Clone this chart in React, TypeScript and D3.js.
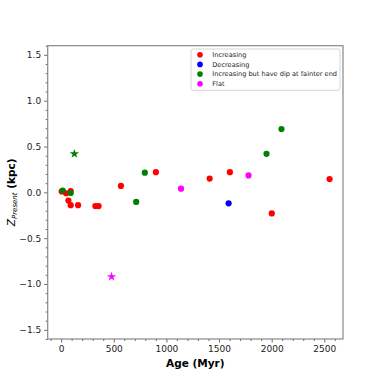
import React, { useEffect, useRef } from 'react';
import * as d3 from 'd3';

// 数据：年龄 (Myr) 与 Z_Present (kpc)
const increasingAge = [6, 47, 91, 69, 91, 161, 325, 356, 568, 900, 1411, 1603, 2001, 2550];
const increasingZ = [0.01, -0.01, 0.015, -0.09, -0.14, -0.14, -0.15, -0.15, 0.07, 0.22, 0.15, 0.22, -0.23, 0.145];
const decreasingAge = [1591];
const decreasingZ = [-0.12];
const dipAge = [15, 91, 713, 795, 1951, 2093];
const dipZ = [0.02, -0.007, -0.105, 0.215, 0.42, 0.69];
const flatAge = [1139, 1780];
const flatZ = [0.04, 0.185];
// 星形标记
const starAge = [126, 479];
const starZ = [0.42, -0.92];
const starColor = ['green', 'magenta'];

const legendLabels = ['Increasing', 'Decreasing', 'Increasing but have dip at fainter end', 'Flat'];
const legendColors = ['red', 'blue', 'green', 'magenta'];
const xTicks = [0, 500, 1000, 1500, 2000, 2500];
const yTicks = [-1.5, -1.0, -0.5, 0.0, 0.5, 1.0, 1.5];

const App = () => {
  const ref = useRef<SVGSVGElement>(null);

  useEffect(() => {
    const svg = d3.select(ref.current);
    svg.selectAll('*').remove();
    const left = 47.7, right = 343, top = 45.7, bottom = 339;

    const x = d3.scaleLinear().domain([-127.5, 2677.5]).range([left, right]);
    const y = d3.scaleLinear().domain([-1.6, 1.6]).range([bottom, top]);
    const font = 'DejaVu Sans';

    // 轴
    const xAxis = d3.axisBottom(x).tickValues(xTicks).tickSize(3.5).tickPadding(3).tickFormat(d3.format('d'));
    const gx = svg.append('g').attr('transform', `translate(0,${bottom})`).call(xAxis);
    const xMinor = d3.axisBottom(x).tickValues(d3.range(-100, 2700, 100).filter(v => v % 500 !== 0)).tickSize(2).tickFormat(() => '');
    const gxm = svg.append('g').attr('transform', `translate(0,${bottom})`).call(xMinor);

    const yAxis = d3.axisLeft(y).tickValues(yTicks).tickSize(3.5).tickPadding(3)
      .tickFormat(d => d3.format('.1f')(d as number).replace('-', '\u2212'));
    const gy = svg.append('g').attr('transform', `translate(${left},0)`).call(yAxis);
    const yMinor = d3.axisLeft(y).tickValues(d3.range(-16, 17, 1).map(v => v / 10).filter(v => Math.round(v * 10) % 5 !== 0)).tickSize(2).tickFormat(() => '');
    const gym = svg.append('g').attr('transform', `translate(${left},0)`).call(yMinor);

    [gx, gxm, gy, gym].forEach(g => {
      g.select('.domain').remove();
      g.selectAll('line').attr('stroke', '#444').attr('stroke-width', 0.8);
      g.selectAll('text').attr('font-family', font).attr('font-size', 9).attr('fill', '#222');
    });

    // 边框
    svg.append('rect')
      .attr('x', left).attr('y', top)
      .attr('width', right - left).attr('height', bottom - top)
      .attr('fill', 'none').attr('stroke', '#888').attr('stroke-width', 1.2);

    // 圆点
    const groups = [
      { a: increasingAge, z: increasingZ, c: 'red' },
      { a: decreasingAge, z: decreasingZ, c: 'blue' },
      { a: dipAge, z: dipZ, c: 'green' },
      { a: flatAge, z: flatZ, c: 'magenta' },
    ];
    groups.forEach(grp => {
      svg.append('g').selectAll('circle')
        .data(grp.a.map((a, i) => [a, grp.z[i]]))
        .enter().append('circle')
        .attr('cx', d => x(d[0])).attr('cy', d => y(d[1]))
        .attr('r', 3.1).style('fill', grp.c);
    });

    // 星形
    const star = d3.symbol().type(d3.symbolStar).size(27);
    svg.append('g').selectAll('path')
      .data(starAge.map((a, i) => [a, starZ[i], i]))
      .enter().append('path')
      .attr('d', star)
      .attr('transform', d => `translate(${x(d[0] as number)},${y(d[1] as number)})`)
      .style('fill', d => starColor[d[2] as number]);

    // 图例
    const lg = svg.append('g');
    lg.append('rect')
      .attr('x', 191).attr('y', 49).attr('width', 149).attr('height', 41.3)
      .attr('rx', 2).attr('fill', 'white').attr('fill-opacity', 0.8)
      .attr('stroke', '#ccc').attr('stroke-width', 0.8);
    legendLabels.forEach((lab, i) => {
      const yy = 54.7 + i * 9.7;
      lg.append('circle').attr('cx', 200).attr('cy', yy).attr('r', 2.8).style('fill', legendColors[i]);
      lg.append('text').attr('x', 212.3).attr('y', yy + 2.3)
        .attr('font-family', font).attr('font-size', 6.6).attr('fill', '#222').text(lab);
    });

    // 轴标题
    svg.append('text')
      .attr('x', (left + right) / 2).attr('y', 366.5)
      .attr('text-anchor', 'middle').attr('font-family', font)
      .attr('font-size', 10.5).attr('font-weight', 'bold').text('Age (Myr)');

    const yl = svg.append('text')
      .attr('transform', `translate(15,${(top + bottom) / 2}) rotate(-90)`)
      .attr('text-anchor', 'middle').attr('font-family', font).attr('font-size', 10.5);
    yl.append('tspan').attr('font-style', 'italic').text('Z');
    yl.append('tspan').attr('font-style', 'italic').attr('font-size', 7).attr('dy', 2).text('Present');
    yl.append('tspan').attr('dy', -2).attr('font-weight', 'bold').text(' (kpc)');
  }, []);

  return (
    <svg ref={ref} width={382} height={382} style={{ position: 'absolute', left: 0, top: 0 }} />
  );
};

export default App;
